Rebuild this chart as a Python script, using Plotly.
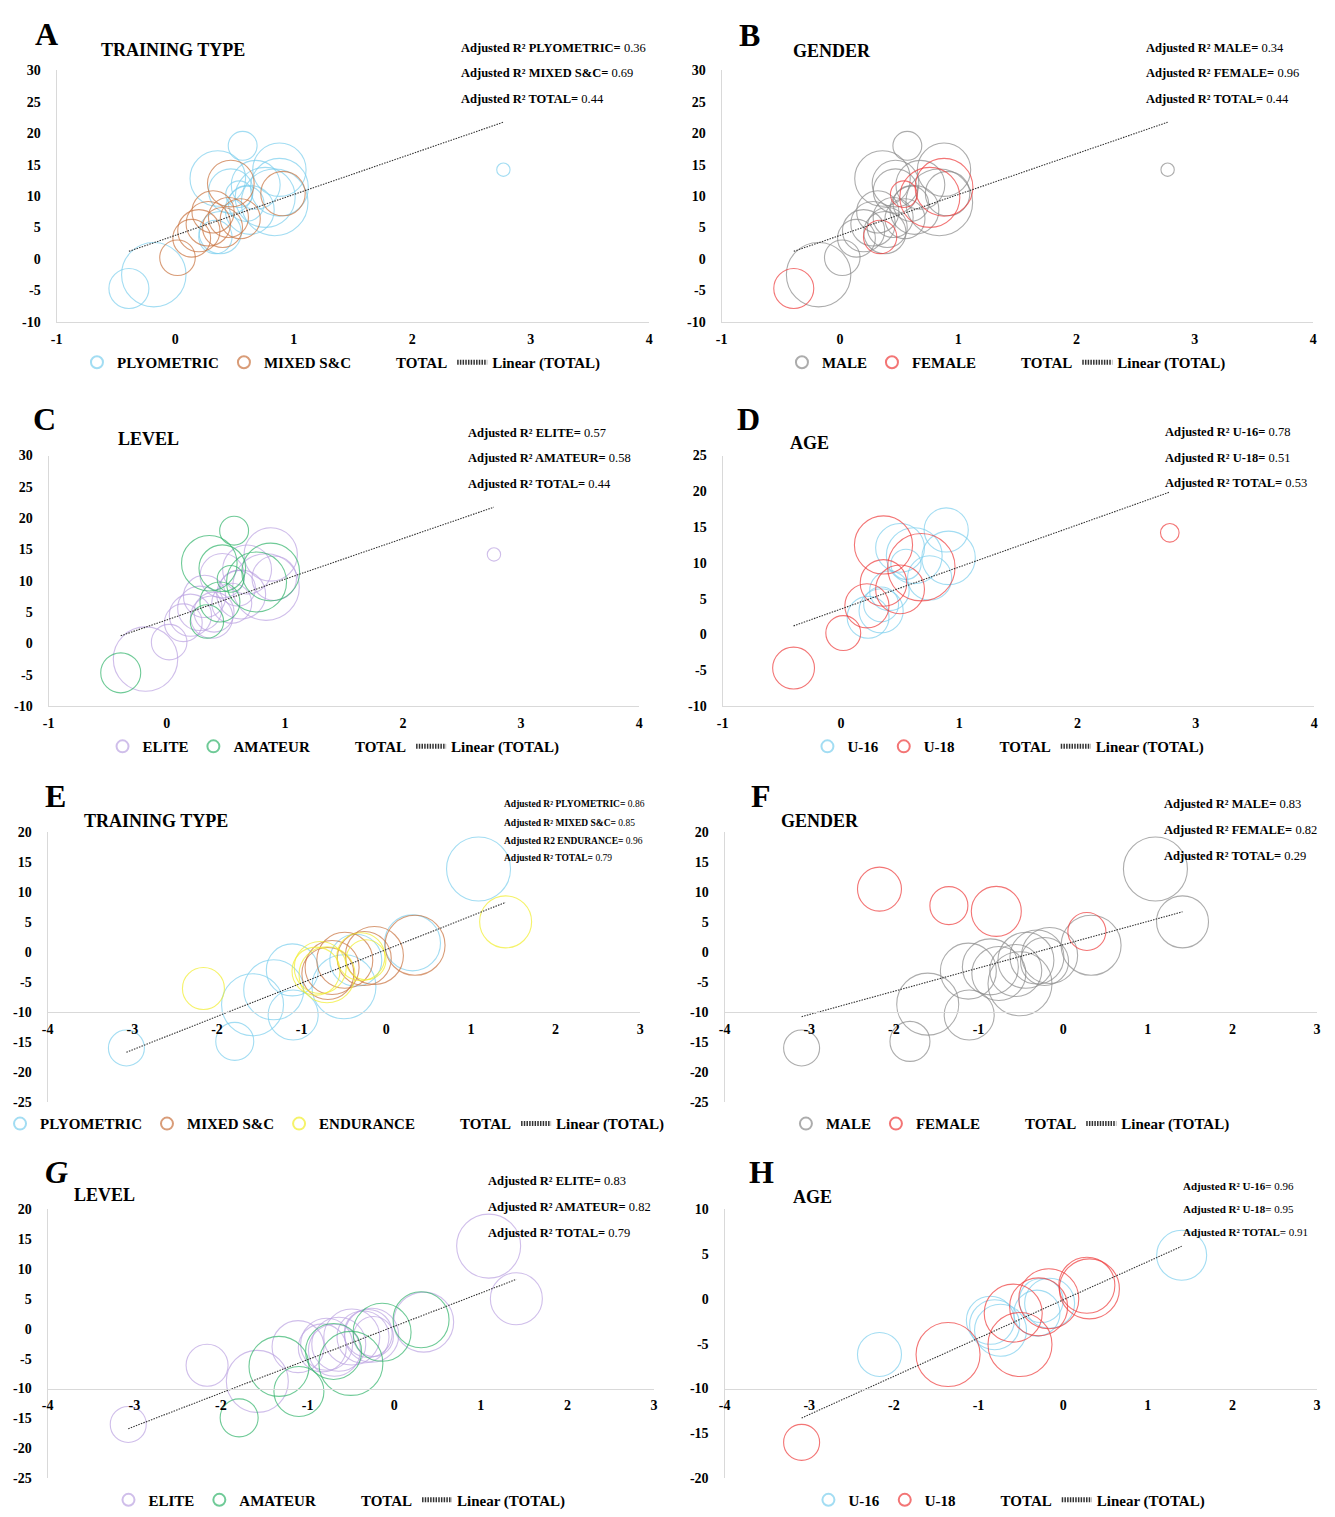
import plotly.graph_objects as go

# ------------------------------------------------------------------
# DATA
# ------------------------------------------------------------------
# Panels A-C : shared study set (effect size x, change y, bubble weight)
TOP_X = [0.57, 2.77, 0.36, 0.47, 0.88, 0.91, 0.84, 0.76, 0.88, 0.54, 0.47, 0.68, 0.32,
         0.45, 0.55, 0.20, 0.14, 0.02, -0.18, -0.39, 0.34, 0.38, 0.28, 0.40, 0.63, 0.60]
TOP_Y = [18.0, 14.2, 12.8, 12.0, 14.2, 10.4, 9.0, 9.8, 11.4, 10.3, 10.8, 11.8, 7.5,
         6.6, 6.4, 4.5, 3.3, 0.2, -2.5, -4.7, 3.5, 4.2, 5.6, 5.0, 7.8, 8.8]
TOP_W = [13, 6, 25, 21, 24, 20, 30, 27, 26, 12, 20, 22, 19,
         18, 18, 19, 17, 16, 29, 18, 15, 19, 20, 18, 22, 16]
TOP_TRAIN = ["P", "P", "P", "M", "P", "M", "P", "P", "P", "P", "P", "P", "M",
             "M", "M", "M", "M", "M", "P", "P", "P", "P", "M", "M", "P", "P"]
TOP_GENDER = ["M", "M", "M", "M", "M", "M", "M", "F", "F", "F", "M", "M", "M",
              "M", "M", "M", "M", "M", "M", "F", "F", "M", "M", "M", "M", "M"]
TOP_LEVEL = ["A", "E", "A", "A", "E", "E", "E", "A", "A", "A", "E", "E", "E",
             "A", "E", "E", "E", "E", "E", "A", "A", "E", "E", "E", "E", "E"]

# Panel D (age subset)
D_U16_X = [0.89, 0.50, 0.91, 0.55, 0.75, 0.41, 0.23, 0.34, 0.34, 0.62]
D_U16_Y = [14.6, 12.1, 10.7, 9.8, 7.9, 6.1, 2.4, 3.3, 4.2, 11.0]
D_U16_W = [19, 21, 23, 13, 19, 17, 18, 19, 15, 24]
D_U18_X = [2.78, 0.36, 0.68, 0.36, 0.50, 0.22, 0.02, -0.40]
D_U18_Y = [14.2, 12.5, 9.4, 7.2, 6.3, 4.0, 0.2, -4.7]
D_U18_W = [8, 25, 29, 20, 21, 19, 15, 18]

# Panels E and G : shared study set
BOT_X = [1.09, 1.41, -3.07, -2.16, -1.79, -1.58, -1.33, -1.11, -1.10, -0.50, -0.36, 0.31,
         -0.78, -0.83, -0.70, -0.24, 0.34, -0.14, -0.26, -0.49, -0.64, -0.69, -0.30]
BOT_Y = [13.8, 5.0, -16.0, -6.1, -14.9, -8.8, -6.3, -3.0, -10.5, -5.8, -1.4, 1.5,
         -2.6, -3.2, -3.8, -1.3, 1.1, -0.6, -1.1, -1.4, -2.6, -3.6, -0.8]
BOT_W = [32, 26, 18, 21, 19, 31, 30, 26, 25, 32, 26, 28,
         26, 24, 28, 20, 30, 29, 27, 28, 27, 26, 24]
BOT_TRAIN = ["P", "E", "P", "E", "P", "P", "P", "P", "P", "P", "P", "P",
             "E", "E", "E", "E", "M", "M", "M", "M", "M", "M", "E"]
BOT_LEVEL = ["E", "E", "E", "E", "A", "E", "A", "E", "A", "A", "E", "A",
             "E", "E", "A", "E", "E", "A", "E", "E", "E", "E", "E"]

# Panel F (gender)
F_MALE_X = [1.09, 1.41, -3.09, -1.81, -1.60, -1.11, -1.12, -0.86, -0.76, -0.51, -0.56, -0.44,
            -0.31, -0.16, -0.22, 0.33]
F_MALE_Y = [13.8, 5.0, -16.0, -14.9, -8.7, -10.5, -3.2, -2.5, -3.6, -5.3, -3.1, -1.4,
            -0.85, -0.6, -1.6, 1.1]
F_MALE_W = [32, 26, 18, 20, 31, 25, 28, 28, 27, 32, 26, 28, 27, 28, 24, 30]
F_FEMALE_X = [-2.17, -1.35, -0.79, 0.28]
F_FEMALE_Y = [10.45, 7.7, 6.75, 3.4]
F_FEMALE_W = [22, 19, 25, 19]

# Panel H (age)
H_U16_X = [1.40, -2.17, -0.81, -0.74, -0.86, -0.31, -0.16, -0.26]
H_U16_Y = [4.85, -6.2, -2.9, -3.5, -2.4, -1.6, -0.5, -0.2]
H_U16_W = [25, 22, 25, 26, 24, 23, 25, 22]
H_U18_X = [-3.09, -1.36, -0.51, -0.59, -0.29, -0.17, 0.28, 0.31]
H_U18_Y = [-16.0, -6.2, -5.1, -1.6, -0.9, 0.0, 1.5, 1.1]
H_U18_W = [18, 32, 32, 29, 29, 30, 28, 30]

# Linear (TOTAL) trendline coefficients (slope, intercept)
TREND_TOP = (6.5, 3.75)
TREND_D = (5.88, 3.55)
TREND_EG = (5.57, 0.39)
TREND_F = (3.88, 1.2)
TREND_H = (4.26, -0.12)

# Adjusted R^2 labels
R2_A = [("PLYOMETRIC", "0.36"), ("MIXED S&C", "0.69"), ("TOTAL", "0.44")]
R2_B = [("MALE", "0.34"), ("FEMALE", "0.96"), ("TOTAL", "0.44")]
R2_C = [("ELITE", "0.57"), ("AMATEUR", "0.58"), ("TOTAL", "0.44")]
R2_D = [("U-16", "0.78"), ("U-18", "0.51"), ("TOTAL", "0.53")]
R2_E = [("PLYOMETRIC", "0.86"), ("MIXED S&C", "0.85"), ("ENDURANCE", "0.96"), ("TOTAL", "0.79")]
R2_F = [("MALE", "0.83"), ("FEMALE", "0.82"), ("TOTAL", "0.29")]
R2_G = [("ELITE", "0.83"), ("AMATEUR", "0.82"), ("TOTAL", "0.79")]
R2_H = [("U-16", "0.96"), ("U-18", "0.95"), ("TOTAL", "0.91")]

# ------------------------------------------------------------------
# STYLE
# ------------------------------------------------------------------
W, H = 1335, 1517
SERIF = "Liberation Serif"
C_BLUE = "#7ccfee"
C_ORANGE = "#c9733f"
C_YELLOW = "#f2ee2a"
C_GRAY = "#8a8a8a"
C_RED = "#ef3b3b"
C_PURPLE = "#bca3e2"
C_GREEN = "#33b56c"
AXIS_C = "#d9d9d9"


def fx(p):
    return p / W


def fy(p):
    return 1 - p / H


fig = go.Figure()

# panel geometry in pixels: left, right, top, bottom of plot area
PANELS = {
    1: dict(l=51, r=648, t=64, b=318, xr=[-1, 4], yr=[-10, 30], cross=None, sref=0.45),
    2: dict(l=721, r=1317, t=64, b=318, xr=[-1, 4], yr=[-10, 30], cross=None, sref=0.45),
    3: dict(l=43, r=638, t=453, b=706, xr=[-1, 4], yr=[-10, 30], cross=None, sref=0.45),
    4: dict(l=722, r=1318, t=453, b=706, xr=[-1, 4], yr=[-10, 25], cross=None, sref=0.43),
    5: dict(l=42, r=639, t=833, b=1106, xr=[-4, 3], yr=[-25, 20], cross=-10, sref=0.5),
    6: dict(l=724, r=1321, t=833, b=1106, xr=[-4, 3], yr=[-25, 20], cross=-10, sref=0.5),
    7: dict(l=42, r=653, t=1214, b=1486, xr=[-4, 3], yr=[-25, 20], cross=-10, sref=0.5),
    8: dict(l=724, r=1321, t=1214, b=1486, xr=[-4, 3], yr=[-20, 10], cross=-10, sref=0.5),
}

tickfont = dict(family=SERIF, size=14, color="black", weight="bold")


def ticks(lo, hi, step):
    vals = list(range(lo, hi + 1, step))
    return vals, [str(v) for v in vals]


for i, p in PANELS.items():
    sfx = "" if i == 1 else str(i)
    y0, y1 = fy(p["b"]), fy(p["t"])
    xv, xt = ticks(p["xr"][0], p["xr"][1], 1)
    yv, yt = ticks(p["yr"][0], p["yr"][1], 5)
    xa = dict(domain=[fx(p["l"]), fx(p["r"])], range=p["xr"],
              tickmode="array", tickvals=xv, ticktext=xt,
              showline=True, linecolor=AXIS_C, linewidth=1.3, showgrid=False,
              zeroline=False, ticks="", tickfont=tickfont, ticklabelstandoff=4,
              fixedrange=True)
    if p["cross"] is None:
        xa["anchor"] = "y" + sfx
    else:
        frac = (p["cross"] - p["yr"][0]) / (p["yr"][1] - p["yr"][0])
        xa["anchor"] = "free"
        xa["position"] = y0 + frac * (y1 - y0)
    ya = dict(domain=[y0, y1], range=p["yr"], anchor="x" + sfx,
              tickmode="array", tickvals=yv, ticktext=yt,
              showline=True, linecolor=AXIS_C, linewidth=1.3, showgrid=False,
              zeroline=False, ticks="", tickfont=tickfont, ticklabelstandoff=12,
              fixedrange=True)
    fig.layout["xaxis" + sfx] = xa
    fig.layout["yaxis" + sfx] = ya


def legname(i):
    return "legend" if i == 1 else "legend" + str(i)


def add_group(i, xs, ys, ws, name, color):
    sfx = "" if i == 1 else str(i)
    fig.add_trace(go.Scatter(
        x=xs, y=ys, mode="markers", name=name, xaxis="x" + sfx, yaxis="y" + sfx,
        legend=legname(i), hoverinfo="skip",
        marker=dict(size=ws, sizemode="diameter", sizeref=PANELS[i]["sref"],
                    color="rgba(0,0,0,0)", line=dict(color=color, width=1.1))))


def add_total_and_trend(i, xs_all, coef):
    sfx = "" if i == 1 else str(i)
    fig.add_trace(go.Scatter(
        x=[None], y=[None], mode="markers", name="TOTAL", xaxis="x" + sfx,
        yaxis="y" + sfx, legend=legname(i),
        marker=dict(size=8, color="rgba(0,0,0,0)", line=dict(width=0))))
    x0, x1 = min(xs_all), max(xs_all)
    fig.add_trace(go.Scatter(
        x=[x0, x1], y=[coef[0] * x0 + coef[1], coef[0] * x1 + coef[1]],
        mode="lines", name="Linear (TOTAL)", xaxis="x" + sfx, yaxis="y" + sfx,
        legend=legname(i), hoverinfo="skip",
        line=dict(color="#333333", width=1.1, dash="1.5px,1.2px")))


def pick(vals, labels, key):
    return [v for v, g in zip(vals, labels) if g == key]


def group(xs, ys, ws, labels, key):
    return pick(xs, labels, key), pick(ys, labels, key), pick(ws, labels, key)


# Panel A : training type
add_group(1, *group(TOP_X, TOP_Y, TOP_W, TOP_TRAIN, "P"), "PLYOMETRIC", C_BLUE)
add_group(1, *group(TOP_X, TOP_Y, TOP_W, TOP_TRAIN, "M"), "MIXED S&C", C_ORANGE)
add_total_and_trend(1, TOP_X, TREND_TOP)

# Panel B : gender
add_group(2, *group(TOP_X, TOP_Y, TOP_W, TOP_GENDER, "M"), "MALE", C_GRAY)
add_group(2, *group(TOP_X, TOP_Y, TOP_W, TOP_GENDER, "F"), "FEMALE", C_RED)
add_total_and_trend(2, TOP_X, TREND_TOP)

# Panel C : level
add_group(3, *group(TOP_X, TOP_Y, TOP_W, TOP_LEVEL, "E"), "ELITE", C_PURPLE)
add_group(3, *group(TOP_X, TOP_Y, TOP_W, TOP_LEVEL, "A"), "AMATEUR", C_GREEN)
add_total_and_trend(3, TOP_X, TREND_TOP)

# Panel D : age
add_group(4, D_U16_X, D_U16_Y, D_U16_W, "U-16", C_BLUE)
add_group(4, D_U18_X, D_U18_Y, D_U18_W, "U-18", C_RED)
add_total_and_trend(4, D_U16_X + D_U18_X, TREND_D)

# Panel E : training type
add_group(5, *group(BOT_X, BOT_Y, BOT_W, BOT_TRAIN, "P"), "PLYOMETRIC", C_BLUE)
add_group(5, *group(BOT_X, BOT_Y, BOT_W, BOT_TRAIN, "M"), "MIXED S&C", C_ORANGE)
add_group(5, *group(BOT_X, BOT_Y, BOT_W, BOT_TRAIN, "E"), "ENDURANCE", C_YELLOW)
add_total_and_trend(5, BOT_X, TREND_EG)

# Panel F : gender
add_group(6, F_MALE_X, F_MALE_Y, F_MALE_W, "MALE", C_GRAY)
add_group(6, F_FEMALE_X, F_FEMALE_Y, F_FEMALE_W, "FEMALE", C_RED)
add_total_and_trend(6, F_MALE_X + F_FEMALE_X, TREND_F)

# Panel G : level
add_group(7, *group(BOT_X, BOT_Y, BOT_W, BOT_LEVEL, "E"), "ELITE", C_PURPLE)
add_group(7, *group(BOT_X, BOT_Y, BOT_W, BOT_LEVEL, "A"), "AMATEUR", C_GREEN)
add_total_and_trend(7, BOT_X, TREND_EG)

# Panel H : age
add_group(8, H_U16_X, H_U16_Y, H_U16_W, "U-16", C_BLUE)
add_group(8, H_U18_X, H_U18_Y, H_U18_W, "U-18", C_RED)
add_total_and_trend(8, H_U16_X + H_U18_X, TREND_H)

# Legends (one under each panel)
LEG_POS = {1: (338, 359), 2: (1008, 359), 3: (330, 747), 4: (1010, 747),
           5: (331, 1128), 6: (1012, 1128), 7: (336, 1508), 8: (1011, 1508)}
for i, (lx, ly) in LEG_POS.items():
    fig.layout[legname(i)] = dict(
        x=fx(lx), y=fy(ly), xanchor="center", yanchor="middle", orientation="h",
        font=dict(family=SERIF, size=15, color="black", weight="bold"),
        itemsizing="constant", bgcolor="rgba(0,0,0,0)", tracegroupgap=0,
        itemwidth=30)

# Text: panel letters, titles, adjusted R^2
ann = []
LETTERS = [("A", 27, 27, False), ("B", 737, 28, False), ("C", 25, 416, False),
           ("D", 735, 416, False), ("E", 37, 797, False), ("F", 749, 797, False),
           ("G", 37, 1177, True), ("H", 747, 1177, False)]
for t, x, y, it in LETTERS:
    txt = "<i><b>%s</b></i>" % t if it else "<b>%s</b>" % t
    ann.append(dict(text=txt, x=fx(x), y=fy(y), xref="paper", yref="paper",
                    xanchor="left", yanchor="middle", showarrow=False,
                    font=dict(family=SERIF, size=32, color="black")))

TITLES = [("TRAINING TYPE", 94, 43), ("GENDER", 791, 44), ("LEVEL", 111, 436),
          ("AGE", 788, 440), ("TRAINING TYPE", 77, 822), ("GENDER", 779, 822),
          ("LEVEL", 66, 1200), ("AGE", 791, 1202)]
for t, x, y in TITLES:
    ann.append(dict(text="<b>%s</b>" % t, x=fx(x), y=fy(y), xref="paper", yref="paper",
                    xanchor="left", yanchor="middle", showarrow=False,
                    font=dict(family=SERIF, size=18, color="black")))

R2_BLOCKS = [
    (R2_A, 456, [41, 67, 93], 12.5),
    (R2_B, 1147, [41, 67, 93], 12.5),
    (R2_C, 463, [430, 456, 482], 12.5),
    (R2_D, 1166, [429, 455, 481], 12.5),
    (R2_E, 500, [805, 824, 842, 860], 9.5),
    (R2_F, 1165, [805, 831, 857], 12.5),
    (R2_G, 484, [1186, 1212, 1238], 12.5),
    (R2_H, 1184, [1191, 1214, 1237], 11),
]
for items, x, ys, size in R2_BLOCKS:
    for (name, val), y in zip(items, ys):
        lab = "R2" if name == "ENDURANCE" else "R²"
        txt = "<b>Adjusted %s %s=</b> %s" % (lab, name, val)
        ann.append(dict(text=txt, x=fx(x), y=fy(y), xref="paper", yref="paper",
                        xanchor="left", yanchor="middle", showarrow=False,
                        font=dict(family=SERIF, size=size, color="black")))

fig.update_layout(
    width=W, height=H, margin=dict(l=0, r=0, t=0, b=0),
    paper_bgcolor="white", plot_bgcolor="white", showlegend=True,
    annotations=ann, font=dict(family=SERIF, color="black"),
)

fig.write_html("out.html")
